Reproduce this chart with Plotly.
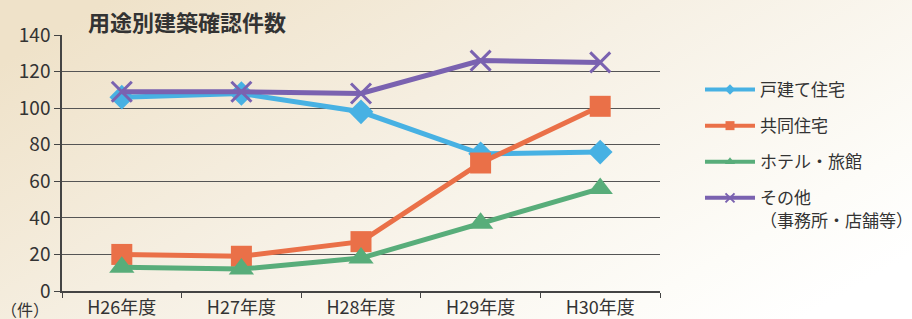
import base64
import plotly.graph_objects as go

categories = ["H26年度", "H27年度", "H28年度", "H29年度", "H30年度"]
detached = [106, 108, 98, 75, 76]
apartment = [20, 19, 27, 70, 101]
hotel = [13, 12, 18, 37, 56]
other = [109, 109, 108, 126, 125]

series = [
    ("戸建て住宅", detached, "#47b1e3", "diamond", 19, 8),
    ("共同住宅", apartment, "#ea7048", "square", 21, 9),
    ("ホテル・旅館", hotel, "#58ad7a", "triangle-up", 22, 9),
    ("その他<br>（事務所・店舗等）", other, "#7a62b0", "x-thin", 20, 9),
]

FONT = "Noto Sans CJK JP"
TXT = "#333333"
fig = go.Figure()
for i, (name, vals, col, sym, sz, lsz) in enumerate(series):
    marker = dict(symbol=sym, size=sz, color=col)
    lmarker = dict(symbol=sym, size=lsz, color=col)
    if sym == "x-thin":
        marker["line"] = dict(width=3, color=col)
        lmarker["line"] = dict(width=2, color=col)
    fig.add_trace(go.Scatter(
        x=categories, y=vals, name=name, mode="lines+markers",
        line=dict(color=col, width=5), marker=marker,
        showlegend=False,
    ))
    # legend entry with a small marker, as in the reference
    fig.add_trace(go.Scatter(
        x=[None], y=[None], name=name, mode="lines+markers",
        line=dict(color=col, width=4), marker=lmarker,
        legendgroup=str(i), showlegend=True,
    ))

svg = (
    '<svg xmlns="http://www.w3.org/2000/svg" width="912" height="319">'
    '<defs><linearGradient id="g" x1="0" y1="0.2" x2="1" y2="0.8">'
    '<stop offset="0" stop-color="#efe2c9"/>'
    '<stop offset="0.45" stop-color="#f6f0e4"/>'
    '<stop offset="0.85" stop-color="#fdfcf8"/>'
    '<stop offset="1" stop-color="#ffffff"/>'
    '</linearGradient></defs>'
    '<rect width="912" height="319" fill="url(#g)"/></svg>'
)
bg = "data:image/svg+xml;base64," + base64.b64encode(svg.encode()).decode()

L, R, T, B = 62, 252, 35, 28
PW, PH = 912 - L - R, 319 - T - B

fig.update_layout(
    width=912, height=319,
    margin=dict(l=L, r=R, t=T, b=B, autoexpand=False),
    paper_bgcolor="#f6f0e4", plot_bgcolor="rgba(0,0,0,0)",
    font=dict(family=FONT, color=TXT, size=18),
    showlegend=True,
    images=[dict(source=bg, xref="paper", yref="paper",
                 x=-L / PW, y=1 + T / PH, sizex=912 / PW, sizey=319 / PH,
                 xanchor="left", yanchor="top", sizing="stretch", layer="below")],
    legend=dict(x=(700 - L) / PW, y=(291 - 72) / PH, xanchor="left", yanchor="top",
                bgcolor="rgba(0,0,0,0)", tracegroupgap=11, itemwidth=50, valign="top",
                font=dict(size=17, family=FONT, color=TXT)),
    xaxis=dict(type="category", range=[-0.5, 4.5], showgrid=False, automargin=False,
               showline=True, linecolor="#444444", linewidth=1.5,
               ticks="outside", tickson="boundaries", ticklen=5,
               tickcolor="#444444", tickfont=dict(size=18, family=FONT, color=TXT)),
    yaxis=dict(range=[0, 140], dtick=20, showgrid=True, gridcolor="#555555", automargin=False,
               gridwidth=1.3, showline=True, linecolor="#444444", linewidth=1.5,
               ticks="outside", ticklen=6, tickcolor="#444444", zeroline=False,
               tickfont=dict(size=19, family=FONT, color=TXT)),
    annotations=[
        dict(text="<b>用途別建築確認件数</b>", xref="paper", yref="paper",
             x=(187 - L) / PW, y=1.0, xanchor="center", yanchor="bottom",
             showarrow=False, yshift=-4, font=dict(size=22, family=FONT, color=TXT)),
        dict(text="（件）", xref="paper", yref="paper", x=-L / PW, y=0,
             xanchor="left", yanchor="top", showarrow=False, yshift=-4, xshift=-1,
             font=dict(size=16, family=FONT, color=TXT)),
    ],
)

fig.write_html("out.html", config={"displayModeBar": False},
               post_script="document.body.style.margin='0';")
